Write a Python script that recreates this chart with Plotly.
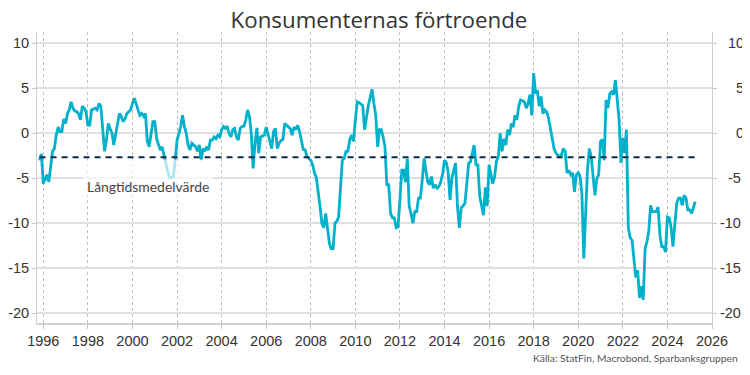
import pandas as pd
import plotly.graph_objects as go

title_text = "Konsumenternas förtroende"
source_text = "Källa: StatFin, Macrobond, Sparbanksgruppen"
mean_label = "Långtidsmedelvärde"

start_month = "1995-11-01"
long_term_mean = -2.65

v1995 = [-3.0, -2.3]
v1996 = [-5.6, -5.0, -4.6, -5.4, -3.5, -2.0, -1.7, -0.2, 0.7, 0.2, 0.2, 1.6]
v1997 = [1.1, 2.2, 2.6, 3.5, 2.8, 2.5, 2.4, 2.2, 1.5, 3.0, 2.8, 2.4]
v1998 = [0.9, 0.9, 2.6, 2.7, 2.8, 2.6, 3.3, 3.0, 0.4, -2.0, -0.7, 1.1]
v1999 = [0.5, 0.0, -1.3, 0.0, 1.3, 2.2, 1.9, 1.3, 1.6, 2.2, 2.4, 2.6]
v2000 = [3.3, 3.9, 3.3, 2.5, 2.0, 2.2, 1.9, 2.2, -0.9, -1.5, -0.2, 1.3]
v2001 = [1.3, -0.6, -1.2, -1.85, -1.5, -2.6, -3.3, -4.3, -4.9, -4.9, -4.8, -3.0]
v2002 = [-0.75, 0.0, 0.75, 2.0, 0.75, 0.0, -1.3, -1.85, -1.1, -1.3, -1.5, -2.0]
v2003 = [-1.3, -3.0, -1.7, -2.0, -1.5, -1.85, -0.75, -0.75, -0.4, -0.6, -0.2, -0.4]
v2004 = [0.4, 0.75, 0.55, 0.8, 0.0, -0.4, 0.4, 0.55, -0.4, -0.75, 0.55, 0.75]
v2005 = [0.8, 1.5, 2.6, 1.9, 0.0, -3.9, -1.1, 0.6, -2.2, -0.4, -0.3, -0.2]
v2006 = [0.7, -0.2, -0.9, -1.7, 0.2, 0.55, -1.7, -1.1, -0.8, -0.7, 1.1, 0.9]
v2007 = [0.6, 0.5, -0.2, 0.7, 0.4, 0.9, 0.2, -0.7, -1.8, -1.85, -2.6, -2.8]
v2008 = [-3.0, -3.5, -4.4, -4.9, -6.3, -8.1, -10.0, -10.5, -8.9, -10.5, -12.2, -12.8]
v2009 = [-12.8, -10.0, -9.8, -9.3, -6.3, -3.0, -2.8, -2.0, -2.0, -0.7, -0.2, -0.9]
v2010 = [1.5, 3.5, 3.4, 3.2, 3.1, 0.4, 1.9, 3.1, 4.0, 4.9, 3.3, 2.0]
v2011 = [-1.5, 0.4, 0.4, -0.4, -1.5, -5.7, -5.7, -8.9, -9.4, -9.4, -10.5, -10.4]
v2012 = [-7.4, -4.1, -4.1, -5.4, -2.8, -8.1, -8.9, -10.0, -8.7, -8.7, -7.2, -7.2]
v2013 = [-5.2, -2.8, -4.1, -5.4, -5.7, -4.8, -6.1, -5.7, -6.1, -5.9, -5.4, -4.5]
v2014 = [-3.0, -3.3, -4.3, -7.4, -5.0, -4.1, -3.3, -8.1, -10.5, -8.3, -8.1, -7.8]
v2015 = [-5.6, -3.3, -3.2, -2.2, -1.3, -3.5, -3.5, -7.0, -8.0, -9.1, -6.0, -8.1]
v2016 = [-3.5, -4.6, -5.6, -4.8, -3.1, -2.6, 0.0, -2.0, -0.6, -1.3, 0.4, -0.2]
v2017 = [1.1, 0.7, 2.0, 1.5, 3.0, 3.7, 3.6, 3.5, 2.8, 3.3, 4.3, 2.0]
v2018 = [6.7, 4.4, 4.8, 3.0, 4.1, 2.2, 2.6, 2.4, 1.7, 0.7, -0.7, -1.7]
v2019 = [-2.2, -2.4, -2.6, -2.4, -1.7, -2.0, -4.4, -4.1, -4.6, -4.4, -6.5, -4.6]
v2020 = [-4.4, -4.8, -6.7, -13.9, -8.0, -4.0, -1.7, -2.6, -4.8, -6.9, -5.0, -4.6]
v2021 = [-0.9, -0.7, -3.0, 3.7, 2.8, 4.4, 4.6, 4.3, 5.9, 3.7, 1.5, -3.3]
v2022 = [-0.5, -2.2, 0.4, -10.5, -11.6, -11.9, -13.7, -16.0, -15.2, -18.3, -17.0, -18.5]
v2023 = [-12.8, -12.0, -10.9, -8.0, -8.7, -8.7, -8.7, -8.2, -11.3, -12.6, -12.6, -13.2]
v2024 = [-9.3, -9.4, -10.4, -12.6, -10.0, -7.8, -7.2, -7.2, -8.0, -6.9, -7.2, -8.5]
v2025 = [-8.5, -8.9, -8.3, -7.6]

values = (v1995 + v1996 + v1997 + v1998 + v1999 + v2000 + v2001 + v2002 + v2003
          + v2004 + v2005 + v2006 + v2007 + v2008 + v2009 + v2010 + v2011 + v2012
          + v2013 + v2014 + v2015 + v2016 + v2017 + v2018 + v2019 + v2020 + v2021
          + v2022 + v2023 + v2024 + v2025)
dates = pd.date_range(start_month, periods=len(values), freq="MS")

tick_years = list(range(1996, 2027, 2))
y_ticks = [-20, -15, -10, -5, 0, 5, 10]
y_left_text = ["-20", "-15", "-10", "-5", "0", "5", "10"]
y_right_text = ["-20", "-15", "-10", "\u2007-5", "\u2007\u20070", "\u2007\u20075", "\u200710"]

line_color = "#00b1cc"
mean_color = "#0e2a47"
text_color = "#333333"

fig = go.Figure()
fig.add_trace(go.Scatter(x=dates, y=values, mode="lines",
                         line=dict(color=line_color, width=2.8), showlegend=False))
fig.add_trace(go.Scatter(x=[dates[0], dates[-1]], y=[long_term_mean, long_term_mean],
                         mode="lines", yaxis="y2",
                         line=dict(color=mean_color, width=2, dash="6px,5px"),
                         showlegend=False))

# translucent label box (lightens the line behind the label)
fig.add_shape(type="rect", xref="x", yref="y",
              x0="1997-10-10", x1="2003-08-20", y0=-7.0, y1=-2.9,
              fillcolor="rgba(255,255,255,0.68)", line=dict(width=0), layer="above")
fig.add_annotation(x="2000-09-20", y=-5.95, xref="x", yref="y", text=mean_label,
                   showarrow=False, font=dict(family="Lato", size=13.9, color="#444444"))

fig.add_annotation(x=1.0415, y=-0.12, xref="paper", yref="paper", xanchor="right",
                   yanchor="middle", text=source_text, showarrow=False,
                   font=dict(family="Lato", size=10.3, color="#555555"))

yr = [-21.08, 11.26]
fig.update_layout(
    width=742, height=367,
    margin=dict(l=29, r=38, t=24, b=52, autoexpand=False),
    paper_bgcolor="white", plot_bgcolor="white",
    title=dict(text=title_text, x=0.5, xanchor="center", y=0.966, yanchor="middle",
               automargin=False,
               font=dict(family="Open Sans", size=22.3, color=text_color)),
    xaxis=dict(type="date", range=["1995-09-20", "2026-01-01"], automargin=False,
               tickvals=[f"{y}-01-01" for y in tick_years],
               ticktext=[str(y) for y in tick_years],
               showgrid=True, gridcolor="#bdbdbd", griddash="dot", gridwidth=1,
               showline=True, linecolor="#d0d0d0", linewidth=1.5,
               ticks="outside", ticklen=4, tickcolor="#c8c8c8",
               tickfont=dict(family="Liberation Sans", size=14.5, color=text_color),
               zeroline=False),
    yaxis=dict(range=yr, tickvals=y_ticks, ticktext=y_left_text, automargin=False,
               showgrid=True, gridcolor="#e0e0e0", gridwidth=1.5,
               showline=True, linecolor="#d0d0d0", linewidth=1,
               ticks="outside", ticklen=4, tickcolor="#c8c8c8",
               tickfont=dict(family="Liberation Sans", size=14.5, color=text_color),
               zeroline=False),
    yaxis2=dict(range=yr, overlaying="y", side="right", tickvals=y_ticks,
                ticktext=y_right_text, showgrid=False, automargin=False,
                showline=True, linecolor="#d0d0d0", linewidth=1,
                ticks="outside", ticklen=4, tickcolor="#c8c8c8",
                tickfont=dict(family="Liberation Sans", size=14.5, color=text_color),
                zeroline=False),
)

fig.write_html("out.html")
